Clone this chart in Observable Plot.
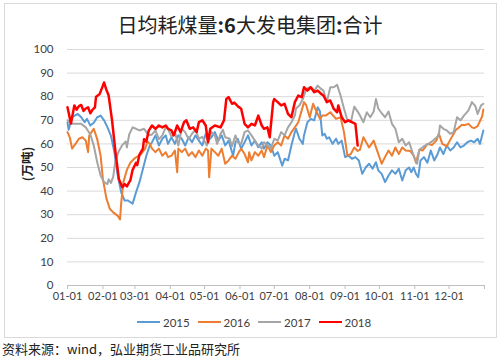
<!DOCTYPE html>
<html><head><meta charset="utf-8">
<script src="https://cdn.jsdelivr.net/npm/d3@7"></script>
<script src="https://cdn.jsdelivr.net/npm/@observablehq/plot@0.6"></script>
<style>
body{margin:0;background:#fff;}
#wrap{position:relative;width:500px;height:357px;overflow:hidden;font-family:"Noto Sans CJK SC",sans-serif;color:#222;}
#frame{position:absolute;left:4px;top:3px;width:493px;height:335px;border:1px solid #d9d9d9;box-sizing:border-box;}
#title{position:absolute;left:0;width:500px;top:13px;text-align:center;font-size:20px;line-height:24px;color:#222;}
#chart{position:absolute;left:0;top:0;}
#ylab{position:absolute;left:27px;top:164px;transform:translate(-50%,-50%) rotate(-90deg);font-size:12.5px;font-weight:bold;white-space:nowrap;line-height:14px;}
.leg{position:absolute;top:314px;height:16px;display:flex;align-items:center;font-family:Lato,"Noto Sans",sans-serif;font-size:11.5px;color:#404040;}
.sw{width:23px;height:2.5px;margin-right:3px;}
#src{position:absolute;left:2px;top:341px;font-size:13px;line-height:16px;color:#222;white-space:nowrap;}
</style></head>
<body><div id="wrap">
<div id="frame"></div>
<div id="title">日均耗煤量<b>:6</b>大发电集团<b>:</b>合计</div>
<div id="chart"></div>
<div id="ylab">(万吨)</div>
<div id="legend"></div>
<div id="src">资料来源：wind，弘业期货工业品研究所</div>
</div>
<script>
const years = ["2015","2016","2017","2018"];
const colors = ["#5b9bd5","#ed7d31","#a5a5a5","#ff0000"];
const monthDays = [0,31,59,90,120,151,181,212,243,273,304,334];
const monthLabels = ["01-01","02-01","03-01","04-01","05-01","06-01","07-01","08-01","09-01","10-01","11-01","12-01"];
const yTicks = [0,10,20,30,40,50,60,70,80,90,100];

const days2015 = [0,1,4,9,12,15,17,20,23,26,29,32,35,38,41,44,47,50,53,55,57,60,63,66,69,72,74,77,80,83,86,88,91,94,97,100,103,106,109,112,115,118,121,123,126,129,132,135,138,141,145,147,149,152,155,158,161,164,167,170,172,175,178,181,184,187,188,190,193,196,199,200,203,206,207,210,213,216,219,221,223,225,227,229,232,235,237,240,243,246,249,252,255,258,261,264,267,270,272,275,278,281,284,287,290,293,296,299,301,303,305,307,309,312,315,318,321,324,326,329,332,335,338,341,344,347,350,353,356,359,361,364];
const vals2015 = [69,66,71.3,72.7,71.3,69.2,70.6,67.8,69,71.3,72,70,67,63.5,56.5,46.6,39.5,36,36,35.3,34.7,39.5,43.8,49.4,55,59.3,60.7,63.6,59.3,62.2,63.6,60,62.8,60,63.6,62.2,59.3,62.8,60.7,63.6,61.4,59.3,64.3,61.4,62.8,65,61.4,63.6,59.3,61.4,55,60.7,62.2,58,60.7,63.6,59.3,61.4,58.6,60.7,58,60.7,59.3,55,56.5,52.2,50.8,53.7,53,59.3,65,66.4,62.2,60,63.6,69.2,70.6,70,75.5,73.7,63.6,64.3,62.2,62.8,60,62.2,60,61.4,54.4,55,53.7,54.4,53,47.3,50,51.6,49.5,52.2,48.8,47.3,43.8,46.6,48.8,47.3,49.5,44.5,48.8,50,48,50,47.3,45.9,53,54.4,52,57.2,53,55.7,58.5,55.7,59.3,57.2,58.5,60.7,58.5,59.3,60.7,61.4,60.7,62.2,60,65.7];

const days2016 = [0,2,4,7,10,13,16,18,19,22,23,26,29,31,34,37,40,44,46,47,49,52,55,59,64,68,70,72,74,77,80,83,86,88,91,94,96,97,100,103,106,109,112,115,118,121,123,124,126,129,132,135,138,141,144,147,150,152,155,158,159,161,164,167,170,172,175,178,181,184,187,190,193,196,199,202,205,207,209,212,215,218,221,223,226,230,235,239,242,245,248,251,254,256,259,264,268,272,275,278,281,284,287,290,293,296,300,303,305,308,311,315,319,323,325,328,332,335,340,342,345,348,351,354,356,359,363,364];
const vals2016 = [65,62.8,58,60,62.2,62.8,61.4,56.5,63.5,65.7,66.4,62,55,45,37,32.5,31,29.5,28,35,44,49,52,54,55.5,58,61,60,58,56.5,58,55,56.5,54.4,55,57.2,48,58,56.5,58,55,56.5,54.4,57.2,55,58,57.2,45.9,58,56.5,55,58,51.6,53,55,53.7,56.5,58,55.7,52.2,56.5,53,56.5,55,57.2,54.4,59.3,56.5,59.3,60.7,59.3,63.6,62.2,65,67,69.2,74.2,77.7,76.3,71.3,77,73.7,70.6,72,72,73.4,70.6,71.3,65,55,55.7,58.5,57,57.5,62.8,58.5,61.4,55.8,51.6,54.5,57.2,55,58.5,55.7,58.5,57.2,57,55,52,57.5,57.2,60,59.5,61.5,64.5,60,59,61.7,66,66.7,68,68,68.5,67,66.7,67.5,71.7,74.6];

const days2017 = [0,3,7,12,16,20,23,26,29,32,35,36,38,40,42,45,48,51,52,54,57,60,63,67,71,74,77,80,83,86,88,91,94,97,100,103,106,109,112,115,118,122,126,129,131,134,136,138,142,144,147,149,152,155,158,161,164,167,170,172,175,178,181,184,187,190,193,196,199,200,203,206,209,212,216,219,222,224,227,230,233,236,239,242,245,248,251,254,256,259,262,265,268,270,272,275,278,281,284,287,290,293,296,299,303,306,308,312,316,320,325,326,329,332,335,338,341,344,347,351,354,357,359,362,364];
const vals2017 = [70,68.5,68.5,68.5,67,64,59.3,52.2,46.6,43.8,43,45,43.5,46,53,57,59.5,61,58.5,64,67,66.4,65.7,66.4,63.6,64,65.7,62,63.6,67,66.4,63,65,59.3,66.4,65,62,64.3,66,62.2,63,59.3,65,63.6,60,64.3,66,62.8,62.2,59,63.6,60.7,60,65,65.7,63.6,61.4,59.3,58,60.7,59.3,58,62.2,61.4,65,63.6,67,69.2,72,75,76.3,79,83.3,84,82.6,84.7,83.3,82.6,77.7,84,84,85,80.5,75,70,69.2,75.8,73.7,72,69.2,73.4,71.3,73.7,79,75,73,71.3,73.7,68.5,66.4,60.7,62.2,59.3,60.7,55,51.6,57.5,59,60,61.4,63.6,67.8,66.4,65.7,64.3,65,71.3,70,72,74.2,77.7,76,72.7,76.3,77];

const days2018 = [0,3,6,8,10,12,14,16,18,20,22,24,25,28,31,32,34,36,39,42,45,48,50,52,54,55,57,60,61,63,66,67,69,71,74,77,80,83,86,88,91,93,96,99,102,104,107,110,113,115,118,121,123,125,129,134,137,139,141,144,146,149,152,155,158,161,164,167,170,172,175,177,180,181,184,187,190,193,196,199,202,205,207,210,213,216,219,222,224,227,230,233,236,237,240,243,246,249,252,254];
const vals2018 = [75.5,68.6,76.3,74.5,76,76.5,74,75,75.5,73,74.5,75.5,80,81,84.7,86,83,80.5,70,56.5,45,41.6,43,42,43.8,44.5,49,52,51,55.5,58,62,61,65.5,67.8,66.4,67.8,67,67.8,66.4,65.7,63.6,67.8,65,69.2,70,66.4,67,65,69.2,70,67.8,60.7,66.4,67.8,67,70,79,79.8,77,77.5,76,74.9,68.5,67,68.5,67.8,72,67.8,66.4,67,62.8,77.7,79,77.7,76.3,77,72.7,71.3,77.7,80.5,79.8,84,82.6,84,81.9,82.6,81.2,80.5,77.7,78.4,74.9,73.4,76.3,71.3,69.2,70,69.2,68.5,59.3];

const allDays = [days2015, days2016, days2017, days2018];
const allVals = [vals2015, vals2016, vals2017, vals2018];
const widths = [2, 2, 2, 2.5];

const series = years.map((y, k) => allDays[k].map((d, i) => ({day: d, value: allVals[k][i], year: y})));

const chart = Plot.plot({
  width: 500, height: 310,
  marginLeft: 67, marginRight: 16, marginTop: 49, marginBottom: 25,
  x: {domain: [0, 365]},
  y: {domain: [0, 100]},
  style: {fontFamily: "Lato, 'Noto Sans', sans-serif", fontSize: "11px", color: "#404040", background: "transparent"},
  marks: [
    Plot.gridY(yTicks.slice(1), {stroke: "#d9d9d9", strokeOpacity: 1}),
    Plot.axisY(yTicks, {tickSize: 0, tickPadding: 14, label: null, fontSize: 11.5}),
    Plot.ruleY([0], {stroke: "#bfbfbf"}),
    Plot.axisX([...monthDays, 365], {tickSize: 4, tickPadding: 3, label: null, stroke: "#bfbfbf", fill: "#404040",
      tickFormat: d => { const i = monthDays.indexOf(d); return i >= 0 ? monthLabels[i] : ""; }}),
    ...series.map((s, k) => Plot.line(s, {x: "day", y: "value", stroke: colors[k], strokeWidth: widths[k], strokeLinejoin: "round"}))
  ]
});
document.getElementById("chart").appendChild(chart);

const leg = document.getElementById("legend");
years.forEach((y, k) => {
  const it = document.createElement("div");
  it.className = "leg";
  it.style.left = (137 + k * 60.5) + "px";
  const sw = document.createElement("span");
  sw.className = "sw";
  sw.style.background = colors[k];
  const t = document.createElement("span");
  t.textContent = y;
  it.appendChild(sw); it.appendChild(t);
  leg.appendChild(it);
});
</script>
</body></html>
